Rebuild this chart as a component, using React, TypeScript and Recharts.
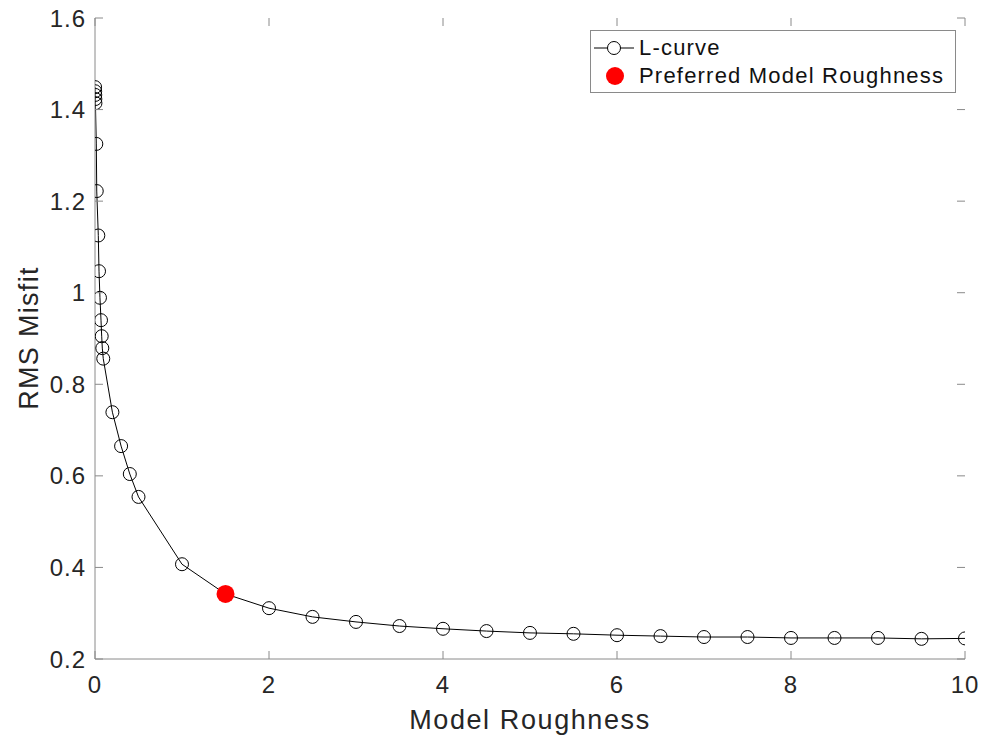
import React from 'react'
import { LineChart, Line, XAxis, YAxis, Legend, Label } from 'recharts'

// L-curve points
const roughness = [
  0.001, 0.002, 0.003, 0.004, 0.005, 0.015, 0.02, 0.038, 0.046, 0.057, 0.069, 0.077, 0.084, 0.095,
  0.2, 0.3, 0.4, 0.5, 1, 1.5, 2, 2.5, 3, 3.5, 4, 4.5, 5, 5.5, 6, 6.5, 7, 7.5, 8, 8.5, 9, 9.5, 10,
]
const misfit = [
  1.449, 1.44, 1.432, 1.423, 1.414, 1.325, 1.222, 1.125, 1.047, 0.989, 0.94, 0.905, 0.879, 0.856,
  0.739, 0.665, 0.604, 0.554, 0.407, 0.342, 0.311, 0.292, 0.281, 0.272, 0.266, 0.261, 0.257, 0.255,
  0.252, 0.25, 0.248, 0.248, 0.246, 0.246, 0.246, 0.244, 0.245,
]
const preferredRoughness = [1.5]
const preferredMisfit = [0.342]

const xTicks = [0, 2, 4, 6, 8, 10]
const yTicks = [0.2, 0.4, 0.6, 0.8, 1, 1.2, 1.4, 1.6]

const curveData = roughness.map((x, i) => ({ x, y: misfit[i] }))
const preferredData = preferredRoughness.map((x, i) => ({ x, y: preferredMisfit[i] }))

const font = '"Liberation Sans", Arial, Helvetica, sans-serif'
const axisGray = '#8a8a8a'
const W = 995
const H = 743
const M = { top: 18, right: 30, left: 95, bottom: 84 }
const TICK = 8

// MATLAB-style ticks: label outside, short tick mark inside on both sides of the box
const XTick = ({ x, payload }: any) => (
  <g>
    <line x1={x} x2={x} y1={H - M.bottom} y2={H - M.bottom - TICK} stroke={axisGray} />
    <line x1={x} x2={x} y1={M.top} y2={M.top + TICK} stroke={axisGray} />
    <text x={x} y={H - M.bottom + 34} textAnchor="middle" fontSize={24} fontFamily={font} fill="#262626" letterSpacing={1}>
      {payload.value}
    </text>
  </g>
)

const YTick = ({ y, payload }: any) => (
  <g>
    <line x1={M.left} x2={M.left + TICK} y1={y} y2={y} stroke={axisGray} />
    <line x1={W - M.right} x2={W - M.right - TICK} y1={y} y2={y} stroke={axisGray} />
    <text x={M.left - 9} y={y + 8.5} textAnchor="end" fontSize={24} fontFamily={font} fill="#262626" letterSpacing={1}>
      {payload.value}
    </text>
  </g>
)

const LegendBox = () => (
  <div
    style={{
      position: 'relative',
      width: 366,
      height: 63,
      border: `1px solid ${axisGray}`,
      boxSizing: 'border-box',
      background: '#fff',
      fontFamily: font,
      fontSize: 22,
      letterSpacing: 1.2,
      color: '#111',
    }}
  >
    <svg width={50} height={62} style={{ position: 'absolute', left: 0, top: 0 }}>
      <line x1={3} x2={43} y1={17} y2={17} stroke="#000" strokeWidth={1} />
      <circle cx={23} cy={17} r={6.5} fill="#fff" stroke="#000" strokeWidth={1} />
      <circle cx={24} cy={45} r={9} fill="#ff0000" />
    </svg>
    <div style={{ position: 'absolute', left: 48, top: 17, lineHeight: '0px' }}>L-curve</div>
    <div style={{ position: 'absolute', left: 48, top: 45, lineHeight: '0px' }}>Preferred Model Roughness</div>
  </div>
)

export default function App() {
  return (
    <div style={{ width: W, height: H, background: '#fff' }}>
      <style>{'body{margin:0}'}</style>
      <LineChart width={W} height={H} margin={{ top: M.top, right: M.right, left: 0, bottom: 0 }}>
        <XAxis
          dataKey="x"
          type="number"
          domain={[0, 10]}
          ticks={xTicks}
          allowDataOverflow
          height={M.bottom}
          stroke={axisGray}
          tickLine={false}
          tick={<XTick />}
        >
          <Label
            content={() => (
              <text x={530} y={729} textAnchor="middle" fontSize={27} fontFamily={font} fill="#262626" letterSpacing={1.6}>
                Model Roughness
              </text>
            )}
          />
        </XAxis>
        <XAxis
          xAxisId="top"
          orientation="top"
          type="number"
          domain={[0, 10]}
          allowDataOverflow
          height={0}
          stroke={axisGray}
          tickLine={false}
          tick={false}
        />
        <YAxis
          type="number"
          domain={[0.2, 1.6]}
          ticks={yTicks}
          allowDataOverflow
          width={M.left}
          stroke={axisGray}
          tickLine={false}
          tick={<YTick />}
        >
          <Label
            content={() => (
              <text
                x={38}
                y={338}
                transform="rotate(-90 38 338)"
                textAnchor="middle"
                fontSize={27}
                fontFamily={font}
                fill="#262626"
                letterSpacing={1.3}
              >
                RMS Misfit
              </text>
            )}
          />
        </YAxis>
        <YAxis
          yAxisId="right"
          orientation="right"
          type="number"
          domain={[0.2, 1.6]}
          allowDataOverflow
          width={0}
          stroke={axisGray}
          tickLine={false}
          tick={false}
        />
        <Legend
          layout="vertical"
          align="center"
          verticalAlign="middle"
          wrapperStyle={{ position: 'absolute', top: 30, left: 590, width: 366 }}
          content={() => <LegendBox />}
        />
        <Line
          data={curveData}
          dataKey="y"
          name="L-curve"
          type="linear"
          stroke="#000"
          strokeWidth={1}
          dot={{ r: 6.5, stroke: '#000', strokeWidth: 1, fill: 'none' }}
          isAnimationActive={false}
        />
        <Line
          data={preferredData}
          dataKey="y"
          name="Preferred Model Roughness"
          stroke="none"
          dot={{ r: 9, stroke: '#ff0000', strokeWidth: 0, fill: '#ff0000' }}
          isAnimationActive={false}
        />
      </LineChart>
    </div>
  )
}
